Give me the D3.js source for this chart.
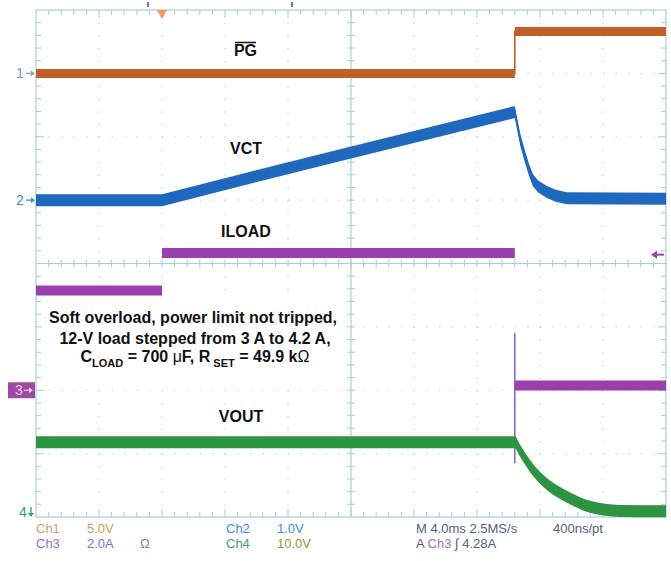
<!DOCTYPE html>
<html><head><meta charset="utf-8">
<script src="https://cdn.jsdelivr.net/npm/d3@7"></script>
<style>body{margin:0;background:#fff}</style>
</head><body>
<svg id="c" width="671" height="561"></svg>
<script>
// ---- data (time in ms, values in channel units) ----
const pgT  = [0, 30.4, 30.4, 40];
const pgV  = [0, 0, 3.3, 3.3];                       // PG (V), Ch1
const vctT = [0, 8, 19.3, 30.4, 30.55, 30.75, 31.05, 31.3, 31.56, 31.9, 32.44, 33.0, 33.71, 40];
const vctV = [0, 0, 0.71, 1.39, 1.2, 0.95, 0.68, 0.48, 0.31, 0.21, 0.13, 0.07, 0.03, 0.02]; // VCT (V), Ch2
const ilT  = [0, 8, 8, 30.4, 30.4, 40];
const ilV  = [3.15, 3.15, 4.33, 4.33, 0.15, 0.15];  // ILOAD (A), Ch3
const spkT = [30.4, 30.4];
const spkV = [1.81, -2.3];                           // ILOAD spike at fault
const voT  = [0, 30.4, 30.7, 31.56, 32.63, 33.71, 35.17, 37.08, 40];
const voV  = [11, 11, 9.8, 6.6, 4.0, 2.4, 0.8, 0.15, 0.1]; // VOUT (V), Ch4
const chOffsets = [3.0, 1.0, -2.0, -3.92];          // divisions
const chPerDiv = [5, 1, 2, 10];
const trigT = 8, trigLevel = 4.28;
const xDivs = 10, yDivs = 8, minor = 5;

// ---- layout ----
const L = 36, R = 666, T = 10, B = 517;
const svg = d3.select("#c");
const x = d3.scaleLinear().domain([0, 40]).range([L, R]);
const chY = i => d3.scaleLinear()
  .domain([(-4 - chOffsets[i]) * chPerDiv[i], (4 - chOffsets[i]) * chPerDiv[i]])
  .range([B, T]);
const yC = chOffsets.map((o, i) => chY(i));

const gridCol = "#a9cfd6", dotCol = "#b6d6e4";
const g = svg.append("g");
const dx = (R - L) / xDivs, dy = (B - T) / yDivs;
d3.range(1, xDivs).filter(i => i !== xDivs / 2).forEach(i => {
  g.append("line").attr("x1", L + i * dx).attr("x2", L + i * dx).attr("y1", T).attr("y2", B)
    .attr("stroke", dotCol).attr("stroke-width", 1.2).attr("stroke-dasharray", "1.2," + (dy / minor - 1.2).toFixed(2));
});
d3.range(1, yDivs).filter(i => i !== yDivs / 2).forEach(i => {
  g.append("line").attr("y1", T + i * dy).attr("y2", T + i * dy).attr("x1", L).attr("x2", R)
    .attr("stroke", dotCol).attr("stroke-width", 1.2).attr("stroke-dasharray", "1.2," + (dx / minor - 1.2).toFixed(2));
});
g.append("rect").attr("x", L).attr("y", T).attr("width", R - L).attr("height", B - T)
  .attr("fill", "none").attr("stroke", gridCol).attr("stroke-width", 1.2);
const cx = (L + R) / 2, cy = (T + B) / 2;
g.append("line").attr("x1", cx).attr("x2", cx).attr("y1", T).attr("y2", B).attr("stroke", gridCol).attr("stroke-width", 1.2);
g.append("line").attr("x1", L).attr("x2", R).attr("y1", cy).attr("y2", cy).attr("stroke", gridCol).attr("stroke-width", 1.2);
d3.range(1, xDivs * minor).forEach(k => {
  const xx = L + k * dx / minor, maj = k % minor === 0;
  g.append("line").attr("x1", xx).attr("x2", xx).attr("y1", T).attr("y2", T + (maj ? 8 : 5)).attr("stroke", gridCol);
  g.append("line").attr("x1", xx).attr("x2", xx).attr("y1", B).attr("y2", B - (maj ? 8 : 5)).attr("stroke", gridCol);
  g.append("line").attr("x1", xx).attr("x2", xx).attr("y1", cy - 4).attr("y2", cy + 4).attr("stroke", gridCol);
});
d3.range(1, yDivs * minor).forEach(k => {
  const yy = T + k * dy / minor, maj = k % minor === 0;
  g.append("line").attr("y1", yy).attr("y2", yy).attr("x1", L).attr("x2", L + (maj ? 8 : 5)).attr("stroke", gridCol);
  g.append("line").attr("y1", yy).attr("y2", yy).attr("x1", R).attr("x2", R - (maj ? 8 : 5)).attr("stroke", gridCol);
  g.append("line").attr("y1", yy).attr("y2", yy).attr("x1", cx - 4).attr("x2", cx + 4).attr("stroke", gridCol);
});

// ---- annotation box ----
const bold = "'Liberation Sans', Arial, sans-serif";
svg.append("rect").attr("x", 42).attr("y", 298).attr("width", 303).attr("height", 82).attr("fill", "#fff");

// ---- traces ----
function trace(tArr, vArr, ys, color, hw, thin, curve) {
  const pts = tArr.map((t, i) => [t, vArr[i]]);
  const area = d3.area().x(d => x(d[0])).y0(d => ys(d[1]) + hw).y1(d => ys(d[1]) - hw).curve(curve || d3.curveLinear);
  svg.append("path").attr("d", area(pts)).attr("fill", color);
  if (thin) {
    const line = d3.line().x(d => x(d[0])).y(d => ys(d[1])).curve(curve || d3.curveLinear);
    svg.append("path").attr("d", line(pts)).attr("fill", "none").attr("stroke", color).attr("stroke-width", 1.6);
  }
}
trace(pgT, pgV, yC[0], "#c25e28", 4.5, true);
trace(vctT, vctV, yC[1], "#1e68be", 6, true);
trace(ilT, ilV, yC[2], "#9b3fae", 5, false);
svg.append("line").attr("x1", x(spkT[0])).attr("x2", x(spkT[1])).attr("y1", yC[2](spkV[0])).attr("y2", yC[2](spkV[1]))
  .attr("stroke", "#7a56c0").attr("stroke-width", 1.4);
trace(voT, voV, yC[3], "#2d9440", 6, true, d3.curveMonotoneX);

// ---- channel markers ----
function arrowR(xEnd, y, col) {
  svg.append("line").attr("x1", xEnd - 9).attr("x2", xEnd - 3).attr("y1", y).attr("y2", y).attr("stroke", col).attr("stroke-width", 1.3);
  svg.append("path").attr("d", `M${xEnd},${y} L${xEnd - 4},${y - 3} L${xEnd - 4},${y + 3} Z`).attr("fill", col);
}
const mk = svg.append("g").attr("font-family", "'Liberation Sans', Arial, sans-serif").attr("font-size", 14);
mk.append("text").attr("x", 16).attr("y", yC[0](0) + 5).attr("fill", "#6f9fb0").text("1");
arrowR(35, yC[0](0), "#6fb0bf");
mk.append("text").attr("x", 16).attr("y", yC[1](0) + 5).attr("fill", "#3a8fd0").text("2");
arrowR(35, yC[1](0), "#3a8fd0");
mk.append("rect").attr("x", 8).attr("y", yC[2](0) - 8).attr("width", 27).attr("height", 16).attr("fill", "#9c4aa6");
mk.append("text").attr("x", 15).attr("y", yC[2](0) + 5).attr("fill", "#f2c6e6").text("3");
arrowR(33, yC[2](0), "#f2c6e6");
mk.append("text").attr("x", 19).attr("y", yC[3](0) + 5).attr("fill", "#3a9a7a").text("4");
svg.append("line").attr("x1", 31).attr("x2", 31).attr("y1", yC[3](0) - 5).attr("y2", yC[3](0) + 1).attr("stroke", "#3a9a7a").attr("stroke-width", 1.3);
svg.append("path").attr("d", `M31,${yC[3](0) + 5} L28,${yC[3](0) + 1} L34,${yC[3](0) + 1} Z`).attr("fill", "#3a9a7a");
// trigger level arrow (right)
const ty = yC[2](trigLevel);
svg.append("line").attr("x1", 656).attr("x2", 664).attr("y1", ty).attr("y2", ty).attr("stroke", "#9a40b0").attr("stroke-width", 2);
svg.append("path").attr("d", `M651,${ty} L657,${ty - 4} L657,${ty + 4} Z`).attr("fill", "#9a40b0");
// trigger position marker (top)
svg.append("path").attr("d", d3.symbol(d3.symbolTriangle, 45)()).attr("transform", `translate(${x(trigT)},${T + 3}) rotate(180)`).attr("fill", "#f08a40").attr("opacity", 0.85);
[x(trigT) - 14, x(trigT) + 130].forEach(xx => svg.append("line").attr("x1", xx).attr("x2", xx).attr("y1", 2).attr("y2", 7).attr("stroke", "#222").attr("stroke-width", 1.2));

// ---- trace labels ----
const labels = [
  {t: "PG", x: 245.5, y: 56, over: true},
  {t: "VCT", x: 246, y: 154},
  {t: "ILOAD", x: 246, y: 237},
  {t: "VOUT", x: 241, y: 422}
];
labels.forEach(d => {
  const tx = svg.append("text").attr("x", d.x).attr("y", d.y).attr("text-anchor", "middle")
    .attr("font-family", bold).attr("font-weight", "bold").attr("font-size", 16).attr("fill", "#111")
    .text(d.t);
  const bb = tx.node().getBBox();
  svg.insert("rect", () => tx.node()).attr("x", bb.x - 5).attr("y", bb.y - 3).attr("width", bb.width + 10).attr("height", bb.height + 5).attr("fill", "#fff");
  if (d.over) svg.append("line").attr("x1", bb.x + 1).attr("x2", bb.x + bb.width - 1).attr("y1", d.y - 13.5).attr("y2", d.y - 13.5).attr("stroke", "#111").attr("stroke-width", 1.5);
});

// ---- annotation ----
const ann = svg.append("text").attr("text-anchor", "middle").attr("font-family", bold).attr("font-weight", "bold").attr("font-size", 16).attr("fill", "#111");
ann.append("tspan").attr("x", 193).attr("y", 323).text("Soft overload, power limit not tripped,");
ann.append("tspan").attr("x", 195).attr("y", 344).text("12-V load stepped from 3 A to 4.2 A,");
const l3 = svg.append("text").attr("text-anchor", "middle").attr("x", 195).attr("y", 362)
  .attr("font-family", bold).attr("font-weight", "bold").attr("font-size", 16).attr("fill", "#111");
l3.append("tspan").text("C");
l3.append("tspan").attr("font-size", 11).attr("dy", 5).text("LOAD");
l3.append("tspan").attr("dy", -5).text(" = 700 ");
l3.append("tspan").attr("font-weight", "normal").text("μ");
l3.append("tspan").text("F, R");
l3.append("tspan").attr("font-size", 11).attr("dy", 5).text(" SET");
l3.append("tspan").attr("dy", -5).text(" = 49.9 k");
l3.append("tspan").attr("font-weight", "normal").text("Ω");

// ---- readout ----
const ro = [
  {t: "Ch1", x: 36, y: 533, c: "#d39b6c"}, {t: "5.0V", x: 87, y: 533, c: "#c9a055"},
  {t: "Ch3", x: 36, y: 548, c: "#8f72cf"}, {t: "2.0A", x: 87, y: 548, c: "#7d72d0"}, {t: "Ω", x: 140, y: 548, c: "#9a72c8"},
  {t: "Ch2", x: 226, y: 533, c: "#3a90d8"}, {t: "1.0V", x: 277, y: 533, c: "#3a90d8"},
  {t: "Ch4", x: 226, y: 548, c: "#3aa080"}, {t: "10.0V", x: 277, y: 548, c: "#8c9a30"},
  {t: "M 4.0ms 2.5MS/s", x: 416, y: 533, c: "#55607e"}, {t: "400ns/pt", x: 553, y: 533, c: "#55607e"}
];
const rg = svg.append("g").attr("font-family", "'Liberation Sans', Arial, sans-serif").attr("font-size", 13);
ro.forEach(d => rg.append("text").attr("x", d.x).attr("y", d.y).attr("fill", d.c).text(d.t));
const al = rg.append("text").attr("x", 416).attr("y", 548).attr("fill", "#55607e");
al.append("tspan").text("A ");
al.append("tspan").attr("fill", "#a070d0").text("Ch3");
al.append("tspan").text("  ∫  4.28A");
</script>
</body></html>
